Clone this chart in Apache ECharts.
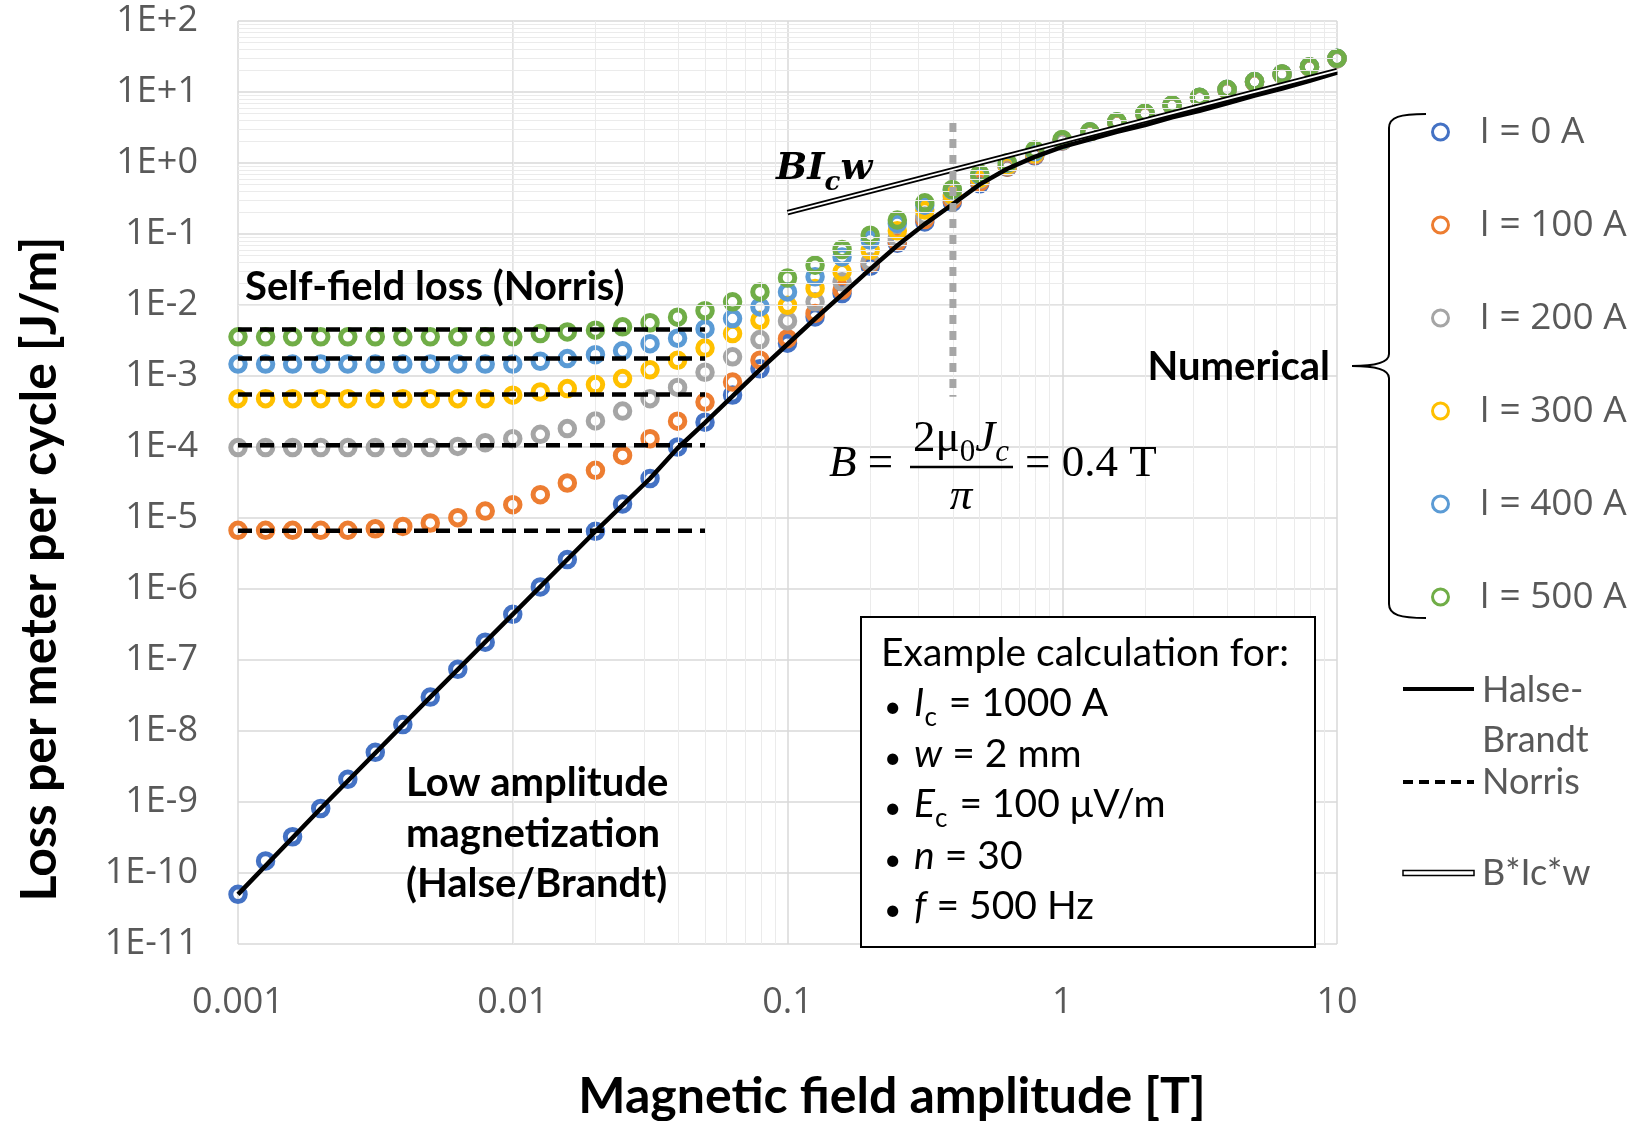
<!DOCTYPE html>
<html>
<head>
<meta charset="utf-8">
<title>AC loss vs field amplitude</title>
<script src="https://cdn.jsdelivr.net/npm/echarts/dist/echarts.min.js"></script>
<style>
    html, body { margin: 0; padding: 0; background: #fff; }
    #loss_chart { width: 1649px; height: 1121px; }
</style>
</head>
<body>
<div id="loss_chart"></div>
<script>
'use strict';

// Field amplitude [T], 10 points per decade
const bField = [
    0.001, 0.00126, 0.00158, 0.002, 0.00251, 0.00316, 0.00398, 0.00501, 0.00631, 0.00794,
    0.01, 0.0126, 0.0158, 0.02, 0.0251, 0.0316, 0.0398, 0.0501, 0.0631, 0.0794,
    0.1, 0.126, 0.158, 0.2, 0.251, 0.316, 0.398, 0.501, 0.631, 0.794,
    1, 1.26, 1.58, 2, 2.51, 3.16, 3.98, 5.01, 6.31, 7.94, 10
];

// Numerical loss [J/m] per transport current
const lossI0 = [
    5.0e-11, 1.48e-10, 3.24e-10, 8.1e-10, 2.09e-9, 5.0e-9, 1.23e-8, 3.0e-8, 7.4e-8, 1.78e-7,
    4.4e-7, 1.07e-6, 2.6e-6, 6.5e-6, 1.58e-5, 3.6e-5, 1.0e-4, 2.24e-4, 5.4e-4, 1.26e-3,
    2.9e-3, 6.8e-3, 1.45e-2, 3.5e-2, 7.4e-2, 0.148, 0.28, 0.51, 0.87, 1.26,
    2.04, 2.69, 3.72, 4.9, 6.46, 8.3, 10.7, 13.8, 17.8, 22.4, 29.5
];
const lossI100 = [
    6.7e-6, 6.7e-6, 6.7e-6, 6.7e-6, 6.7e-6, 7.06e-6, 7.6e-6, 8.5e-6, 1.01e-5, 1.25e-5,
    1.54e-5, 2.13e-5, 3.11e-5, 4.7e-5, 7.6e-5, 1.31e-4, 2.31e-4, 4.3e-4, 8.2e-4, 1.67e-3,
    3.36e-3, 7.6e-3, 1.62e-2, 3.85e-2, 7.8e-2, 0.16, 0.30, 0.54, 0.88, 1.29,
    2.05, 2.7, 3.73, 4.9, 6.5, 8.3, 10.7, 13.8, 17.8, 22.4, 29.5
];
const lossI200 = [
    9.8e-5, 9.8e-5, 9.8e-5, 9.8e-5, 9.8e-5, 9.8e-5, 9.8e-5, 9.8e-5, 1.02e-4, 1.15e-4,
    1.31e-4, 1.51e-4, 1.82e-4, 2.33e-4, 3.21e-4, 4.8e-4, 6.9e-4, 1.13e-3, 1.86e-3, 3.26e-3,
    5.97e-3, 1.11e-2, 2.12e-2, 4.05e-2, 8.65e-2, 0.179, 0.334, 0.587, 0.90, 1.33,
    2.07, 2.72, 3.76, 4.95, 6.5, 8.35, 10.8, 13.9, 17.9, 22.5, 29.6
];
const lossI300 = [
    4.8e-4, 4.8e-4, 4.8e-4, 4.8e-4, 4.8e-4, 4.8e-4, 4.8e-4, 4.8e-4, 4.8e-4, 4.8e-4,
    5.36e-4, 5.96e-4, 6.65e-4, 7.57e-4, 9.2e-4, 1.22e-3, 1.66e-3, 2.47e-3, 3.96e-3, 6.1e-3,
    9.9e-3, 1.71e-2, 2.93e-2, 5.9e-2, 0.111, 0.217, 0.353, 0.607, 0.933, 1.36,
    2.09, 2.74, 3.78, 4.98, 6.52, 8.4, 10.85, 13.95, 17.9, 22.6, 29.7
];
const lossI400 = [
    1.47e-3, 1.47e-3, 1.47e-3, 1.47e-3, 1.47e-3, 1.47e-3, 1.47e-3, 1.47e-3, 1.47e-3, 1.47e-3,
    1.47e-3, 1.61e-3, 1.76e-3, 2.0e-3, 2.26e-3, 2.85e-3, 3.4e-3, 4.6e-3, 6.44e-3, 9.4e-3,
    1.53e-2, 2.49e-2, 4.76e-2, 8.2e-2, 0.141, 0.255, 0.415, 0.675, 0.986, 1.44,
    2.1, 2.75, 3.8, 5.0, 6.55, 8.42, 10.9, 14.0, 17.95, 22.7, 29.8
];
const lossI500 = [
    3.56e-3, 3.56e-3, 3.56e-3, 3.56e-3, 3.56e-3, 3.56e-3, 3.56e-3, 3.56e-3, 3.56e-3, 3.56e-3,
    3.56e-3, 3.96e-3, 4.18e-3, 4.42e-3, 4.92e-3, 5.62e-3, 6.73e-3, 8.3e-3, 1.11e-2, 1.53e-2,
    2.41e-2, 3.64e-2, 6.05e-2, 9.64e-2, 0.157, 0.275, 0.425, 0.705, 1.01, 1.52,
    2.15, 2.75, 3.81, 5.0, 6.55, 8.41, 10.9, 14.0, 17.9, 22.7, 29.8
];

// Halse/Brandt analytical curve
const halseB = [
    0.001, 0.002, 0.00501, 0.01, 0.02, 0.0316, 0.0398, 0.0501, 0.0631, 0.0794,
    0.1, 0.126, 0.158, 0.2, 0.251, 0.316, 0.398, 0.501, 0.631, 0.794,
    1, 1.26, 1.58, 2, 2.51, 3.16, 3.98, 5.01, 6.31, 7.94, 10
];
const halseLoss = [
    5.0e-11, 8.1e-10, 3.0e-8, 4.4e-7, 6.5e-6, 3.6e-5, 9.6e-5, 2.2e-4, 5.2e-4, 1.23e-3,
    2.8e-3, 6.4e-3, 1.4e-2, 3.2e-2, 6.9e-2, 0.138, 0.26, 0.5, 0.83, 1.22,
    1.69, 2.15, 2.75, 3.42, 4.4, 5.45, 6.9, 8.9, 11.2, 14.4, 18.7
];

// Norris self-field loss (constant), I = 100..500 A
const norrisB = [0.001, 0.0501];
const norrisLoss = [6.6e-6, 1.06e-4, 5.5e-4, 1.76e-3, 4.5e-3];

// B*Ic*w asymptote
const bicwB = [0.1, 10];
const bicwLoss = [0.2, 20];

// B = 0.4 T marker
const penetrationB = [0.4, 0.4];
const penetrationLoss = [3.65, 5.1e-4];

const xTickLabels = ['0.001', '0.01', '0.1', '1', '10'];
const yTickLabels = ['1E-11', '1E-10', '1E-9', '1E-8', '1E-7', '1E-6', '1E-5', '1E-4', '1E-3', '1E-2', '1E-1', '1E+0', '1E+1', '1E+2'];

const currentNames = ['I = 0 A', 'I = 100 A', 'I = 200 A', 'I = 300 A', 'I = 400 A', 'I = 500 A'];
const currentColors = ['#4472C4', '#ED7D31', '#A5A5A5', '#FFC000', '#5B9BD5', '#70AD47'];
const currentLoss = [lossI0, lossI100, lossI200, lossI300, lossI400, lossI500];

const pairs = (xs, ys) => xs.map((x, i) => [x, ys[i]]);

const numericalSeries = (name, values, color) => ({
    name: name,
    type: 'scatter',
    data: pairs(bField, values),
    symbol: 'circle',
    symbolSize: 14.5,
    itemStyle: { color: 'rgba(255,255,255,0)', borderColor: color, borderWidth: 5, opacity: 1 },
    z: 3
});

const plainLine = (data, lineStyle, z) => ({
    type: 'line',
    data: data,
    symbol: 'none',
    silent: true,
    lineStyle: lineStyle,
    z: z
});

// Light minor gridlines at 2..9 of every decade
const minorGridLines = () => {
    const lines = [];
    for (let e = -3; e < 1; e++) {
        for (let m = 2; m <= 9; m++) lines.push({ xAxis: m * Math.pow(10, e) });
    }
    for (let e = -11; e < 2; e++) {
        for (let m = 2; m <= 9; m++) lines.push({ yAxis: m * Math.pow(10, e) });
    }
    return lines;
};

const txt = (x, y, text, font, extra) => Object.assign({
    type: 'text',
    z: 100,
    style: Object.assign({
        x: x, y: y, text: text,
        fill: '#000',
        align: 'left', verticalAlign: 'middle',
        textAlign: 'left', textVerticalAlign: 'middle'
    }, font)
}, extra || {});

const seg = (x1, y1, x2, y2, style) => ({
    type: 'line', z: 100,
    shape: { x1: x1, y1: y1, x2: x2, y2: y2 },
    style: Object.assign({ stroke: '#000', lineWidth: 2 }, style || {})
});

const curve = (x1, y1, cx1, cy1, cx2, cy2, x2, y2) => ({
    type: 'bezierCurve', z: 100,
    shape: { x1: x1, y1: y1, cpx1: cx1, cpy1: cy1, cpx2: cx2, cpy2: cy2, x2: x2, y2: y2 },
    style: { stroke: '#000', lineWidth: 2, fill: null }
});

const lossChart = function() {
    const el = document.getElementById('loss_chart');
    if (!el || typeof echarts == 'undefined') return;
    const chart = echarts.init(el);

    const boldLabel = { fontFamily: 'Lato', fontWeight: 'bold', fontSize: 40 };
    const boxFont = { fontFamily: 'Lato', fontSize: 39 };
    const bulletFont = { fontFamily: 'Lato', fontSize: 30 };
    const boxRich = {
        r: { fontFamily: 'Lato', fontSize: 39, lineHeight: 48, verticalAlign: 'bottom', padding: [0, 0, 8, 0] },
        i: { fontFamily: 'Lato', fontStyle: 'italic', fontSize: 39, lineHeight: 48, verticalAlign: 'bottom', padding: [0, 0, 8, 0] },
        s: { fontFamily: 'Lato', fontSize: 26, lineHeight: 48, verticalAlign: 'bottom', padding: [0, 2, 0, 0] }
    };
    const mathRich = {
        r: { fontFamily: 'Liberation Serif', fontSize: 45, lineHeight: 54, verticalAlign: 'bottom', padding: [0, 0, 8, 0] },
        i: { fontFamily: 'Liberation Serif', fontStyle: 'italic', fontSize: 45, lineHeight: 54, verticalAlign: 'bottom', padding: [0, 0, 8, 0] },
        s: { fontFamily: 'Liberation Serif', fontSize: 31, lineHeight: 54, verticalAlign: 'bottom', padding: [0, 0, 2, 0] },
        si: { fontFamily: 'Liberation Serif', fontStyle: 'italic', fontSize: 31, lineHeight: 54, verticalAlign: 'bottom', padding: [0, 0, 2, 0] }
    };
    const legendFont = { fontFamily: 'Lato', fontSize: 36, fill: '#595959' };

    const series = [];
    series.push({
        type: 'line',
        data: [[0.001, 1e-11]],
        symbol: 'none',
        silent: true,
        lineStyle: { opacity: 0 },
        markLine: {
            silent: true,
            symbol: 'none',
            animation: false,
            label: { show: false },
            lineStyle: { color: '#ebebeb', width: 1, type: 'solid' },
            data: minorGridLines()
        },
        z: 1
    });
    currentNames.forEach((name, k) => series.push(numericalSeries(name, currentLoss[k], currentColors[k])));
    series.push(plainLine(pairs(halseB, halseLoss), { color: '#000', width: 4.5 }, 5));
    norrisLoss.forEach(v => series.push(plainLine([[norrisB[0], v], [norrisB[1], v]],
        { color: '#000', width: 4.5, type: [14, 8] }, 5)));
    series.push(plainLine(pairs(bicwB, bicwLoss), { color: '#000', width: 5.5 }, 6));
    series.push(plainLine(pairs(bicwB, bicwLoss), { color: '#fff', width: 2 }, 7));
    series.push(plainLine(pairs(penetrationB, penetrationLoss),
        { color: '#a6a6a6', width: 7, type: [9, 7], cap: 'butt' }, 8));

    const axisLabel = { color: '#595959', fontFamily: 'Open Sans', fontSize: 36 };

    chart.setOption({
        animation: false,
        backgroundColor: '#fff',
        grid: { left: 238, right: 312, top: 21, bottom: 177, containLabel: false },
        xAxis: {
            type: 'log',
            logBase: 10,
            min: 0.001,
            max: 10,
            interval: 1,
            axisLine: { show: false },
            axisTick: { show: false },
            axisLabel: Object.assign({}, axisLabel, {
                margin: 41,
                formatter: v => xTickLabels[Math.round(Math.log10(v)) + 3]
            }),
            splitLine: { show: true, lineStyle: { color: '#d9d9d9', width: 1.5 } }
        },
        yAxis: {
            type: 'log',
            logBase: 10,
            min: 1e-11,
            max: 100,
            interval: 1,
            axisLine: { show: false },
            axisTick: { show: false },
            axisLabel: Object.assign({}, axisLabel, {
                margin: 40,
                formatter: v => yTickLabels[Math.round(Math.log10(v)) + 11]
            }),
            splitLine: { show: true, lineStyle: { color: '#d9d9d9', width: 1.5 } }
        },
        legend: {
            data: currentNames,
            orient: 'vertical',
            left: 1431,
            top: 112,
            padding: 0,
            itemWidth: 16,
            itemHeight: 16,
            itemGap: 53,
            selectedMode: false,
            itemStyle: { borderWidth: 3 },
            textStyle: { color: '#595959', fontFamily: 'Open Sans', fontSize: 37, lineHeight: 40, padding: [0, 0, 0, 26] }
        },
        series: series,
        graphic: [
            // axis titles
            txt(892, 1097, 'Magnetic field amplitude [T]',
                { fontFamily: 'Lato', fontWeight: 'bold', fontSize: 50, align: 'center', textAlign: 'center' }),
            txt(0, 0, 'Loss per meter per cycle [J/m]',
                { fontFamily: 'Lato', fontWeight: 'bold', fontSize: 50, align: 'center', textAlign: 'center' },
                { x: 40, y: 569, rotation: Math.PI / 2 }),

            // annotations
            txt(245, 287, 'Self-field loss (Norris)', boldLabel),
            txt(406, 783, 'Low amplitude', boldLabel),
            txt(406, 834, 'magnetization', boldLabel),
            txt(406, 884, '(Halse/Brandt)', boldLabel),
            txt(1330, 367, 'Numerical', Object.assign({}, boldLabel, { align: 'right', textAlign: 'right' })),
            txt(776, 172, '{b|BI}{c|c}{b|w}', {
                rich: {
                    b: { fontFamily: 'DejaVu Serif', fontWeight: 'bold', fontStyle: 'italic', fontSize: 37, lineHeight: 48, verticalAlign: 'bottom', padding: [0, 0, 8, 0] },
                    c: { fontFamily: 'DejaVu Serif', fontWeight: 'bold', fontStyle: 'italic', fontSize: 26, lineHeight: 48, verticalAlign: 'bottom' }
                }
            }),

            // B = 2 mu0 Jc / pi = 0.4 T
            txt(829, 468, '{i|B}{r| =}', { rich: mathRich }),
            txt(961, 443, '{r|2μ}{s|0}{i|J}{si|c}', { rich: mathRich, align: 'center', textAlign: 'center' }),
            seg(910, 467, 1013, 467, { lineWidth: 2.5 }),
            txt(961, 501, '{i|π}', { rich: mathRich, align: 'center', textAlign: 'center' }),
            txt(1025, 468, '{r|= 0.4 T}', { rich: mathRich }),

            // example calculation box
            { type: 'rect', z: 99, shape: { x: 861, y: 617, width: 454, height: 330 }, style: { fill: '#fff', stroke: '#000', lineWidth: 2 } },
            txt(881, 653, 'Example calculation for:', boxFont),
            txt(884, 707, '•', bulletFont), txt(914, 707, '{i|I}{s|c}{r| = 1000 A}', { rich: boxRich }),
            txt(884, 758, '•', bulletFont), txt(914, 758, '{i|w}{r| = 2 mm}', { rich: boxRich }),
            txt(884, 808, '•', bulletFont), txt(914, 808, '{i|E}{s|c}{r| = 100 μV/m}', { rich: boxRich }),
            txt(884, 860, '•', bulletFont), txt(914, 860, '{i|n}{r| = 30}', { rich: boxRich }),
            txt(884, 910, '•', bulletFont), txt(914, 910, '{i|f}{r| = 500 Hz}', { rich: boxRich }),

            // brace grouping the numerical series
            curve(1426, 114, 1400, 114, 1389, 117, 1389, 128),
            seg(1389, 128, 1389, 354),
            curve(1389, 354, 1389, 362, 1378, 366, 1352, 366),
            curve(1352, 366, 1378, 366, 1389, 370, 1389, 378),
            seg(1389, 378, 1389, 604),
            curve(1389, 604, 1389, 615, 1400, 618, 1426, 618),

            // analytical legend
            seg(1403, 689, 1474, 689, { lineWidth: 4 }),
            txt(1482, 690, 'Halse-', legendFont),
            txt(1482, 740, 'Brandt', legendFont),
            seg(1403, 782, 1474, 782, { lineWidth: 4, lineDash: [10, 6] }),
            txt(1482, 782, 'Norris', legendFont),
            { type: 'rect', z: 100, shape: { x: 1403, y: 870.5, width: 71, height: 5 }, style: { fill: '#fff', stroke: '#000', lineWidth: 1.5 } },
            txt(1482, 873, 'B*Ic*w', legendFont)
        ]
    });
};

document.addEventListener('DOMContentLoaded', function() {
    lossChart();
});
</script>
</body>
</html>
